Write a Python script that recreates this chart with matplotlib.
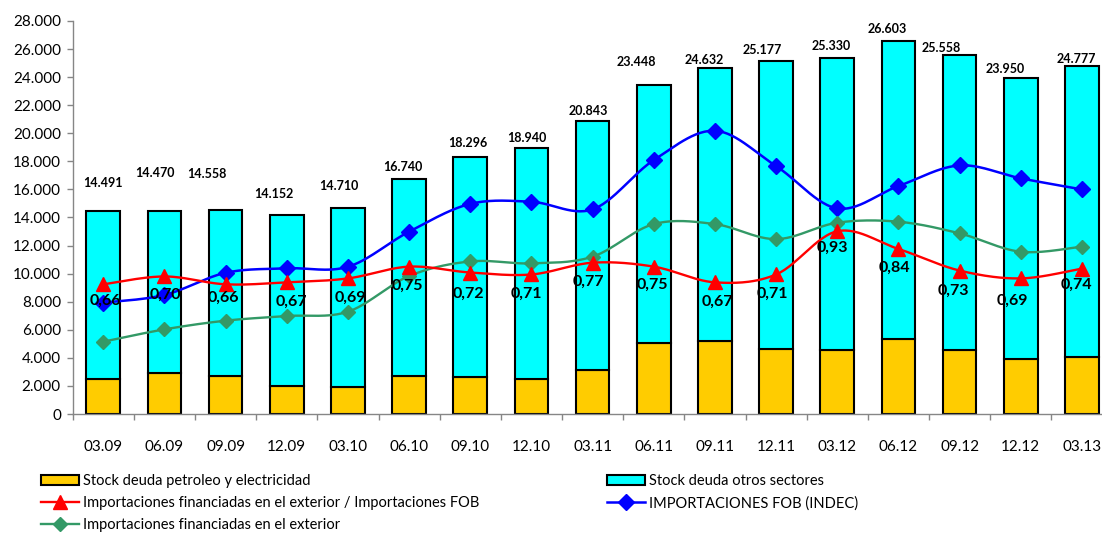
import numpy as np
import matplotlib
matplotlib.use("Agg")
import matplotlib.pyplot as plt
from matplotlib.ticker import FuncFormatter, MultipleLocator, FixedLocator
from matplotlib.patches import Patch
from matplotlib.lines import Line2D

plt.rcParams['font.family'] = ['Lato', 'DejaVu Sans']

# trimestres (mes.año)
trimestres = ['03.09', '06.09', '09.09', '12.09', '03.10', '06.10', '09.10', '12.10',
              '03.11', '06.11', '09.11', '12.11', '03.12', '06.12', '09.12', '12.12', '03.13']

# stock de deuda comercial, millones de USD
stock_total = [14491, 14470, 14558, 14152, 14710, 16740, 18296, 18940,
               20843, 23448, 24632, 25177, 25330, 26603, 25558, 23950, 24777]
stock_petroleo = [2490, 2950, 2730, 2000, 1900, 2700, 2660, 2490,
                  3130, 5080, 5220, 4610, 4560, 5340, 4540, 3890, 4080]

# importaciones trimestrales
imp_fob = [7930, 8480, 10060, 10380, 10490, 12990, 14970, 15120,
           14580, 18090, 20180, 17660, 14650, 16240, 17710, 16790, 16000]
imp_financiadas = [5150, 6030, 6650, 6980, 7290, 9830, 10870, 10730,
                   11210, 13530, 13530, 12460, 13630, 13700, 12870, 11560, 11920]
ratio = [0.66, 0.70, 0.66, 0.67, 0.69, 0.75, 0.72, 0.71,
         0.77, 0.75, 0.67, 0.71, 0.93, 0.84, 0.73, 0.69, 0.74]

stock_otros = [t - p for t, p in zip(stock_total, stock_petroleo)]

# desplazamiento de las etiquetas (pixeles)
tot_dx = [0, -10, -19, -13, -9, -6, -2, -5, -4, -17, -11, -14, -6, -11, -18, -16, -6]
tot_dy = [28, 38, 36, 21, 22, 12, 14, 10, 10, 23, 8, 11, 12, 12, 7, 9, 7]
rat_dx = [2, 1, -2, 5, 2, -2, -2, -5, -4, -1, 2, -4, -5, -4, -6, -8, -5]
rat_dy = [16, 18, 13, 19, 19, 19, 21, 19, 19, 18, 19, 19, 17, 19, 20, 22, 16]

AMARILLO = '#FFCC00'
CIAN = '#00FFFF'
ROJO = '#FF0000'
AZUL = '#0000FF'
VERDE = '#339966'


def suavizar(y, pasos=30):
    # curva suavizada tipo Excel (bezier con tangentes catmull-rom)
    y = np.asarray(y, dtype=float)
    x = np.arange(len(y), dtype=float)
    pts = np.column_stack([x, y])
    n = len(pts)
    out = []
    for i in range(n - 1):
        p0 = pts[max(i - 1, 0)]
        p1 = pts[i]
        p2 = pts[i + 1]
        p3 = pts[min(i + 2, n - 1)]
        c1 = p1 + (p2 - p0) / 6.0
        c2 = p2 - (p3 - p1) / 6.0
        t = np.linspace(0, 1, pasos)[:, None]
        seg = ((1 - t) ** 3) * p1 + 3 * ((1 - t) ** 2) * t * c1 + 3 * (1 - t) * t ** 2 * c2 + t ** 3 * p2
        out.append(seg if i == 0 else seg[1:])
    out = np.vstack(out)
    return out[:, 0], out[:, 1]


fig = plt.figure(figsize=(11.02, 5.33), dpi=100)
ax = fig.add_axes([72.7 / 1102, 1 - 414 / 533, (1112.5 - 72.7) / 1102, 393 / 533])

x = np.arange(len(trimestres))
ancho = 0.55
ax.bar(x, stock_petroleo, ancho, color=AMARILLO, edgecolor='black', linewidth=1.5, zorder=2)
ax.bar(x, stock_otros, ancho, bottom=stock_petroleo, color=CIAN, edgecolor='black', linewidth=1.5, zorder=2)

sx, sy = suavizar(imp_fob)
ax.plot(sx, sy, color=AZUL, lw=1.8, zorder=3)
ax.plot(x, imp_fob, 'D', color=AZUL, ms=8, zorder=4)

sx, sy = suavizar(imp_financiadas)
ax.plot(sx, sy, color=VERDE, lw=1.7, zorder=3)
ax.plot(x, imp_financiadas, 'D', color=VERDE, ms=7.5, zorder=4)

for i, v in enumerate(stock_total):
    ax.annotate(f"{v:,}".replace(',', '.'), (x[i], v), xytext=(tot_dx[i], tot_dy[i]),
                textcoords='offset pixels', ha='center', va='center',
                fontsize=9, fontweight='bold', zorder=6)

ax.set_xlim(-0.5, len(trimestres) - 0.5)
ax.set_ylim(0, 28000)
ax.yaxis.set_major_locator(MultipleLocator(2000))
ax.yaxis.set_major_formatter(FuncFormatter(lambda v, p: f"{int(v):,}".replace(',', '.')))
ax.set_xticks(x)
ax.set_xticklabels(trimestres)
ax.xaxis.set_minor_locator(FixedLocator(np.arange(-0.5, len(trimestres), 1.0)))
ax.tick_params(axis='x', which='major', length=0, pad=19, labelsize=11)
ax.tick_params(axis='x', which='minor', length=4, width=1, color='#868686')
ax.tick_params(axis='y', length=4.5, width=1, color='#868686', labelsize=11, pad=4)
for s in ['top', 'right']:
    ax.spines[s].set_visible(False)
for s in ['left', 'bottom']:
    ax.spines[s].set_color('#868686')
    ax.spines[s].set_linewidth(1)

# eje secundario oculto para el cociente
ax2 = ax.twinx()
ax2.set_ylim(0, 2.0)
ax2.axis('off')
sx, sy = suavizar(ratio)
ax2.plot(sx, sy, color=ROJO, lw=1.7, zorder=3)
ax2.plot(x, ratio, '^', color=ROJO, ms=10.5, zorder=4)
for i, r in enumerate(ratio):
    ax2.annotate(f"{r:.2f}".replace('.', ','), (x[i], r), xytext=(rat_dx[i], -rat_dy[i]),
                 textcoords='offset pixels', ha='center', va='center',
                 fontsize=11.5, fontweight='bold', zorder=6)

h_pet = Patch(facecolor=AMARILLO, edgecolor='black', linewidth=1.5)
h_otr = Patch(facecolor=CIAN, edgecolor='black', linewidth=1.5)
h_rat = Line2D([], [], color=ROJO, lw=1.7, marker='^', ms=10.5)
h_fob = Line2D([], [], color=AZUL, lw=1.8, marker='D', ms=8)
h_fin = Line2D([], [], color=VERDE, lw=1.7, marker='D', ms=7.5)

leg_kw = dict(loc='upper left', frameon=False, fontsize=10.5, borderpad=0, borderaxespad=0,
              handlelength=2.6, handletextpad=0.3, labelspacing=0.55, numpoints=1)
leg1 = fig.legend([h_pet, h_rat, h_fin],
                  ['Stock deuda petroleo y electricidad',
                   'Importaciones financiadas en el exterior / Importaciones FOB',
                   'Importaciones financiadas en el exterior'],
                  bbox_to_anchor=(41 / 1102, 1 - 474 / 533), **leg_kw)
leg2 = fig.legend([h_otr, h_fob],
                  ['Stock deuda otros sectores', 'IMPORTACIONES FOB (INDEC)'],
                  bbox_to_anchor=(607 / 1102, 1 - 474 / 533), **leg_kw)

fig.savefig('out.png', dpi=100)
